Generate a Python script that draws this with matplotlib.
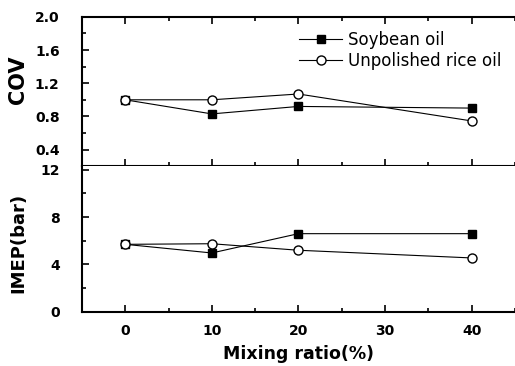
import matplotlib
matplotlib.use("Agg")
import matplotlib.pyplot as plt
from matplotlib.ticker import MultipleLocator

# data
ratio = [0, 10, 20, 40]
cov_soy = [1.0, 0.83, 0.92, 0.90]
cov_rice = [1.0, 1.0, 1.07, 0.745]
imep_soy = [5.7, 4.97, 6.6, 6.6]
imep_rice = [5.7, 5.75, 5.2, 4.55]

plt.rcParams['font.family'] = ['DejaVu Sans']

fig = plt.figure(figsize=(5.15, 3.66), dpi=100)
ax1 = fig.add_axes([0.159, 0.546, 0.841, 0.408])
ax2 = fig.add_axes([0.159, 0.148, 0.841, 0.398], sharex=ax1)

for ax in (ax1, ax2):
    for s in ('left', 'bottom', 'top'):
        ax.spines[s].set_linewidth(1.5)
    ax.spines['right'].set_visible(False)
    ax.xaxis.set_major_locator(MultipleLocator(10))
    ax.xaxis.set_minor_locator(MultipleLocator(5))
    ax.tick_params(which='major', direction='in', length=5, width=1.2, labelsize=10)
    ax.tick_params(which='minor', direction='in', length=3, width=1.2)
    ax.tick_params(axis='y', which='both', pad=16, right=False)
    for lab in ax.get_yticklabels() + ax.get_xticklabels():
        lab.set_fontweight('bold')

# top panel: COV
ax1.plot(ratio, cov_soy, color='black', lw=0.8, marker='s', ms=5.5,
         mfc='black', mec='black', label='Soybean oil')
ax1.plot(ratio, cov_rice, color='black', lw=0.8, marker='o', ms=6.5,
         mfc='white', mec='black', mew=1.0, label='Unpolished rice oil')
ax1.set_xlim(-5, 45)
ax1.set_ylim(0.2, 2.0)
ax1.yaxis.set_major_locator(MultipleLocator(0.4))
ax1.yaxis.set_minor_locator(MultipleLocator(0.2))
ax1.set_yticks([0.4, 0.8, 1.2, 1.6, 2.0])
ax1.set_yticklabels(['0.4', '0.8', '1.2', '1.6', '2.0'], fontweight='bold')
ax1.tick_params(axis='x', which='both', top=True, labelbottom=False)
ax1.set_ylabel('COV', fontsize=15, fontweight='bold', labelpad=6)
ax1.yaxis.set_label_coords(-0.125, 0.58)
leg = ax1.legend(loc='upper left', bbox_to_anchor=(0.501, 0.906), frameon=False,
                 fontsize=12, handlelength=2.6, handletextpad=0.35,
                 labelspacing=0.2, borderpad=0, borderaxespad=0)

# bottom panel: IMEP
ax2.plot(ratio, imep_soy, color='black', lw=0.8, marker='s', ms=5.5,
         mfc='black', mec='black')
ax2.plot(ratio, imep_rice, color='black', lw=0.8, marker='o', ms=6.5,
         mfc='white', mec='black', mew=1.0)
ax2.set_ylim(0, 12.3)
ax2.yaxis.set_major_locator(MultipleLocator(4))
ax2.yaxis.set_minor_locator(MultipleLocator(2))
ax2.set_yticks([0, 4, 8, 12])
ax2.set_yticklabels(['0', '4', '8', '12'], fontweight='bold')
ax2.set_xticks([0, 10, 20, 30, 40])
ax2.set_xticklabels(['0', '10', '20', '30', '40'], fontweight='bold')
ax2.tick_params(axis='x', which='both', top=False, pad=9)
ax2.spines['top'].set_visible(False)
ax2.set_ylabel('IMEP(bar)', fontsize=13, fontweight='bold')
ax2.yaxis.set_label_coords(-0.125, 0.47)
ax2.set_xlabel('Mixing ratio(%)', fontsize=12.5, fontweight='bold', labelpad=5)

fig.savefig('out.png', dpi=100)
